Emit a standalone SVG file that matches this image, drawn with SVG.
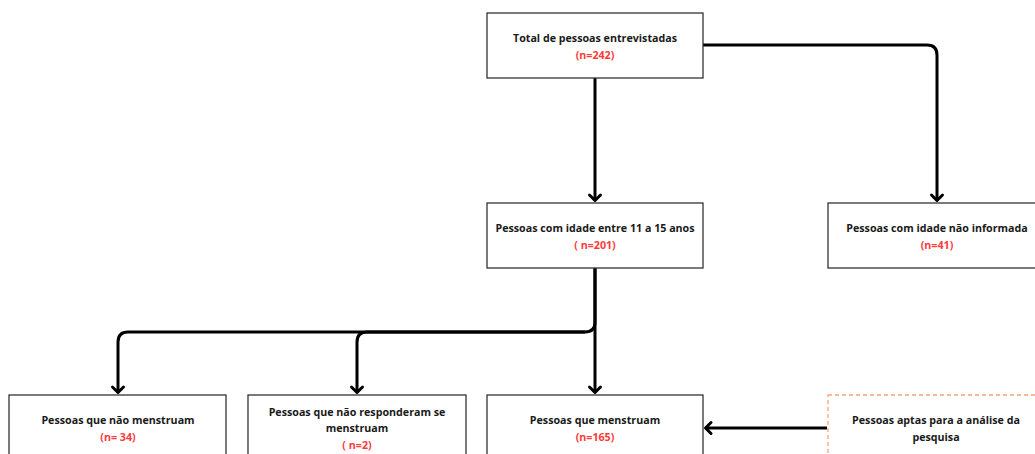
<svg xmlns="http://www.w3.org/2000/svg" width="1035" height="454" viewBox="0 0 1035 454">
<style>
.box{fill:#fff;stroke:#333;stroke-width:1.3}
.dash{fill:#fff;stroke:#F5A673;stroke-width:1.3;stroke-dasharray:4 3}
.t{font-family:"Open Sans","Noto Sans",sans-serif;font-weight:bold;font-size:10.7px;fill:#1a1a1a;text-anchor:middle}
.r{fill:#FF3B3B}
.c{fill:none;stroke:#000;stroke-width:3;stroke-linejoin:round}
</style>
<defs>
<marker id="ah" viewBox="-10 -10 20 20" refX="0" refY="0" markerWidth="20" markerHeight="20" orient="auto" markerUnits="userSpaceOnUse">
<path d="M-6,-5.5 L-0.5,0 L-6,5.5" fill="none" stroke="#000" stroke-width="3" stroke-linecap="round" stroke-linejoin="round"/>
</marker>
</defs>
<rect width="1035" height="454" fill="#fff"/>
<g id="connectors">
<path class="c" d="M595,78 L595,201" marker-end="url(#ah)"/>
<path class="c" d="M703,45 L927,45 Q937,45 937,55 L937,201" marker-end="url(#ah)"/>
<path class="c" d="M595,268 L595,393" marker-end="url(#ah)"/>
<path class="c" d="M595,268 L595,322 Q595,332 585,332 L128,332 Q118,332 118,342 L118,393" marker-end="url(#ah)"/>
<path class="c" d="M585,332 L367,332 Q357,332 357,342 L357,393" marker-end="url(#ah)"/>
<path class="c" d="M827,428 L705,428" marker-end="url(#ah)"/>
</g>
<g id="n-total">
<rect class="box" x="487" y="13" width="216" height="65"/>
<text class="t" x="595" y="42">Total de pessoas entrevistadas</text>
<text class="t r" x="595" y="59">(n=242)</text>
</g>
<g id="n-idade">
<rect class="box" x="487" y="203" width="216" height="65"/>
<text class="t" x="595" y="232">Pessoas com idade entre 11 a 15 anos</text>
<text class="t r" x="595" y="249">( n=201)</text>
</g>
<g id="n-naoinf">
<rect class="box" x="828" y="203" width="216" height="65"/>
<text class="t" x="937" y="232">Pessoas com idade não informada</text>
<text class="t r" x="937" y="249">(n=41)</text>
</g>
<g id="n-naomens">
<rect class="box" x="9" y="395" width="217" height="65"/>
<text class="t" x="118" y="424">Pessoas que não menstruam</text>
<text class="t r" x="118" y="441">(n= 34)</text>
</g>
<g id="n-naoresp">
<rect class="box" x="248" y="395" width="218" height="65"/>
<text class="t" x="357" y="416">Pessoas que não responderam se</text>
<text class="t" x="357" y="432">menstruam</text>
<text class="t r" x="357" y="449">( n=2)</text>
</g>
<g id="n-mens">
<rect class="box" x="487" y="395" width="216" height="65"/>
<text class="t" x="595" y="424">Pessoas que menstruam</text>
<text class="t r" x="595" y="441">(n=165)</text>
</g>
<g id="n-aptas">
<rect class="dash" x="828" y="395" width="216" height="65"/>
<text class="t" x="936" y="424">Pessoas aptas para a análise da</text>
<text class="t" x="936" y="441">pesquisa</text>
</g>
</svg>
